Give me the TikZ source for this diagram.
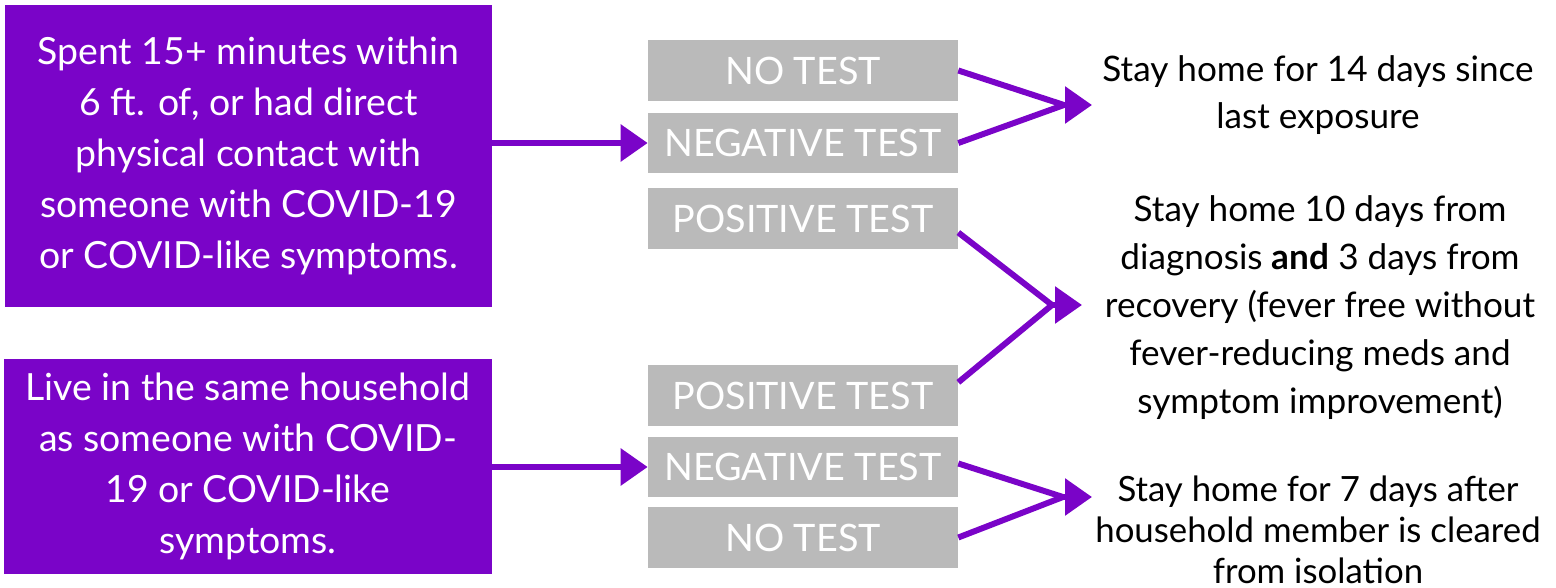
\documentclass[tikz,border=0pt]{standalone}
\usepackage{fontspec}
\setmainfont{Lato}
\usetikzlibrary{arrows.meta}
\definecolor{figpurple}{RGB}{122,4,200}
\definecolor{figgray}{RGB}{186,186,186}
\tikzset{
  grp/.style ={fill=figpurple, text=white, font=\fontsize{21.3}{29}\selectfont, align=center, inner sep=0pt},
  tst/.style ={fill=figgray, text=white, font=\fontsize{21.5}{25}\selectfont, minimum width=6.2cm, minimum height=1.22cm, inner sep=0pt},
  adv/.style ={text=black, align=center, inner sep=0pt},
  lnk/.style ={draw=figpurple, line width=3.4pt},
  flw/.style ={lnk, -{Triangle[length=0.54cm,width=0.72cm]}},
}

\begin{document}
\begin{tikzpicture}[x=0.02cm,y=-0.02cm]
  \useasboundingbox (0,0) rectangle (1556,588);
  % exposure groups
  \node[grp, minimum width=9.74cm, minimum height=6.04cm] (close) at (248.5,156) {Spent 15+ minutes within\\6 ft. of, or had direct\\physical contact with\\someone with COVID-19\\or COVID-like symptoms.};
  \node[grp, minimum width=9.76cm, minimum height=4.3cm] (house) at (248,466.5) {Live in the same household\\as someone with COVID-\\19 or COVID-like\\symptoms.};
  % test results
  \node[tst] (none1) at (803,70.5) {NO TEST};
  \node[tst] (neg1) at (803,143) {NEGATIVE TEST};
  \node[tst] (pos1) at (803,218.5) {POSITIVE TEST};
  \node[tst] (pos2) at (803,395.5) {POSITIVE TEST};
  \node[tst] (neg2) at (803,467) {NEGATIVE TEST};
  \node[tst] (none2) at (803,537.5) {NO TEST};
  % advice
  \node[adv, font=\fontsize{20}{26.8}\selectfont] (stay14) at (1318,95) {Stay home for 14 days since\\last exposure};
  \node[adv, font=\fontsize{20}{27.4}\selectfont] (stay10) at (1320,307.5) {Stay home 10 days from\\diagnosis \textbf{and} 3 days from\\recovery (fever free without\\fever-reducing meds and\\symptom improvement)};
  \node[adv, font=\fontsize{19.8}{23.5}\selectfont] (stay7) at (1318,530) {Stay home for 7 days after\\household member is cleared\\from isolation};
  % joints and tips
  \coordinate (j1) at (1064,105);
  \coordinate (t1) at (1092,105);
  \coordinate (j2) at (1052,305);
  \coordinate (t2) at (1082,305);
  \coordinate (j3) at (1063,497);
  \coordinate (t3) at (1092,497);
  % connectors
  \draw[flw] (close.east |- neg1) -- (neg1.west);
  \draw[flw] (house.east |- neg2) -- (neg2.west);
  \draw[lnk] (none1.east) -- (j1);
  \draw[lnk] (neg1.east) -- (j1);
  \draw[flw] (j1) -- (t1);
  \draw[lnk] ([yshift=-8pt]pos1.east) -- (j2);
  \draw[lnk] ([yshift=7.5pt]pos2.east) -- (j2);
  \draw[flw] (j2) -- (t2);
  \draw[lnk] ([yshift=2pt]neg2.east) -- (j3);
  \draw[lnk] (none2.east) -- (j3);
  \draw[flw] (j3) -- (t3);
\end{tikzpicture}
\end{document}
